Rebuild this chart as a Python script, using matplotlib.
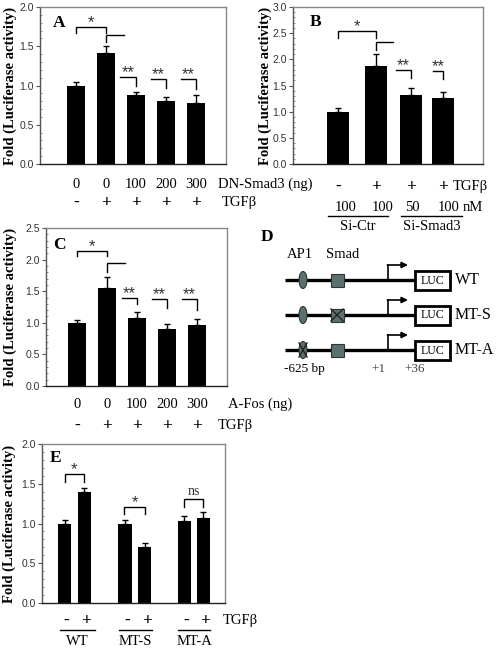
import numpy as np
import matplotlib
matplotlib.use('Agg')
import matplotlib.pyplot as plt
from matplotlib.patches import Ellipse, Rectangle

SERIF = 'Liberation Serif'
SANS = 'Liberation Sans'

# panel A: DN-Smad3
a_dose = ['0', '0', '100', '200', '300']
a_tgf = ['-', '+', '+', '+', '+']
a_vals = [1.0, 1.42, 0.88, 0.80, 0.78]
a_err = [0.04, 0.08, 0.04, 0.05, 0.10]

# panel B: siRNA
b_tgf = ['-', '+', '+', '+']
b_dose = ['100', '100', '50', '100']
b_groups = ['Si-Ctr', 'Si-Smad3']
b_vals = [1.0, 1.87, 1.32, 1.27]
b_err = [0.07, 0.23, 0.13, 0.11]

# panel C: A-Fos
c_dose = ['0', '0', '100', '200', '300']
c_tgf = ['-', '+', '+', '+', '+']
c_vals = [1.0, 1.55, 1.08, 0.90, 0.96]
c_err = [0.05, 0.18, 0.09, 0.08, 0.10]

# panel E: promoter mutants
e_groups = ['WT', 'MT-S', 'MT-A']
e_tgf = ['-', '+', '-', '+', '-', '+']
e_vals = [1.0, 1.40, 1.0, 0.70, 1.03, 1.07]
e_err = [0.04, 0.05, 0.04, 0.06, 0.06, 0.07]

# panel D constructs
d_names = ['WT', 'MT-S', 'MT-A']
d_ap1_mut = [False, False, True]
d_smad_mut = [False, True, False]

W, H = 501, 652
fig = plt.figure(figsize=(W / 100, H / 100), dpi=100)


def px_box(x0, y0, x1, y1):
    return [x0 / W, 1 - y1 / H, (x1 - x0) / W, (y1 - y0) / H]


def bar_panel(box, xs, vals, errs, ymax, xlim, width, letter, letter_px, ylab_px):
    ax = fig.add_axes(px_box(*box))
    ax.bar(xs, vals, width=width, color='black', zorder=2)
    ax.errorbar(xs, vals, yerr=[np.zeros(len(vals)), errs], fmt='none',
                ecolor='black', elinewidth=1, capsize=2.5, capthick=1, zorder=1)
    ax.set_xlim(*xlim)
    ax.set_ylim(0, ymax)
    ax.set_yticks(np.arange(0, ymax + 0.01, 0.5))
    ax.set_yticks(np.arange(0, ymax + 0.01, 0.1), minor=True)
    ax.yaxis.set_major_formatter('{x:.1f}')
    ax.tick_params(axis='y', which='major', direction='out', length=3, width=0.8,
                   labelsize=7.5, labelcolor='#333333', color='#555555', pad=1.5)
    ax.tick_params(axis='y', which='minor', direction='in', length=1.5, width=0.6, color='#777777')
    for lab in ax.get_yticklabels():
        lab.set_fontfamily(SANS)
    ax.set_xticks([])
    ax.spines['top'].set_color('#888888')
    ax.spines['right'].set_color('#888888')
    ax.spines['left'].set_color('#555555')
    ax.spines['bottom'].set_color('#222222')
    for s in ax.spines.values():
        s.set_linewidth(1)
    ax.set_ylabel('Fold (Luciferase activity)', fontfamily=SERIF, fontweight='bold', fontsize=10.5)
    ax.yaxis.set_label_coords((ylab_px - box[0]) / (box[2] - box[0]), 0.5)
    ax.text((letter_px[0] - box[0]) / (box[2] - box[0]), 1 - (letter_px[1] - box[1]) / (box[3] - box[1]),
            letter, transform=ax.transAxes, fontfamily=SERIF, fontweight='bold',
            fontsize=12.5, ha='left', va='top')
    return ax


def row(ax, box, xs, labels, y_px, bold=False, size=10.5, ha='center', color='black'):
    yax = -(y_px - box[3]) / (box[3] - box[1])
    for x, l in zip(xs, labels):
        ax.text(x, yax, l, transform=ax.get_xaxis_transform(), ha=ha, va='baseline',
                fontfamily=SERIF, fontweight='bold' if bold else 'normal',
                fontsize=size, color=color, clip_on=False)


def hline(ax, box, x0, x1, y_px):
    yax = -(y_px - box[3]) / (box[3] - box[1])
    ax.plot([x0, x1], [yax, yax], transform=ax.get_xaxis_transform(), color='black',
            lw=1, clip_on=False)


def bracket(ax, x0, x1, y, dl, dr, label='', fam=SANS, size=12, off=0.0):
    ax.plot([x0, x0, x1, x1], [y - dl, y, y, y - dr], color='black', lw=1,
            solid_joinstyle='miter', clip_on=False, zorder=3)
    if label:
        ax.text((x0 + x1) / 2, y + off, label, ha='center', va='baseline',
                fontfamily=fam, fontsize=size, color='#333333')


PM = 12.5  # size of the +/- row

# ---- A ----
boxA = (40, 7, 226, 164)
xa = np.arange(len(a_vals))
axA = bar_panel(boxA, xa, a_vals, a_err, 2.0, (-1.2, 5.0), 0.6, 'A', (53, 15), 17)
bracket(axA, 0, 1, 1.745, 0.08, 0.08, '*')
bracket(axA, 1, 1.6, 1.64, 0.09, 0)
bracket(axA, 1.47, 2.0, 1.11, 0, 0.11, '**')
bracket(axA, 2.5, 3.0, 1.08, 0, 0.11, '**')
bracket(axA, 3.5, 4.0, 1.08, 0, 0.13, '**')
row(axA, boxA, xa, a_dose, 188)
row(axA, boxA, [4.73], ['DN-Smad3 (ng)'], 188, ha='left')
row(axA, boxA, xa, a_tgf, 207, bold=True, size=PM)
row(axA, boxA, [4.87], ['TGF\u03b2'], 206, ha='left')

# ---- B ----
boxB = (293, 7, 483, 164)
xb = np.array([0, 1.05, 2.03, 2.92])
axB = bar_panel(boxB, xb, b_vals, b_err, 3.0, (-1.25, 4.03), 0.6, 'B', (310, 14), 272)
bracket(axB, 0, 1.05, 2.54, 0.13, 0.13, '*')
bracket(axB, 1.05, 1.53, 2.33, 0.15, 0)
bracket(axB, 1.61, 2.03, 1.80, 0, 0.16, '**')
bracket(axB, 2.64, 2.92, 1.78, 0, 0.16, '**')
row(axB, boxB, xb, b_tgf, 191, bold=True, size=PM)
row(axB, boxB, [3.19], ['TGF\u03b2'], 190, ha='left')
row(axB, boxB, xb + np.array([0.2, 0.2, 0.05, 0.15]), b_dose, 211)
row(axB, boxB, [3.47], ['nM'], 211, ha='left')
hline(axB, boxB, -0.28, 1.39, 216)
hline(axB, boxB, 1.75, 3.44, 216)
row(axB, boxB, [0.55, 2.6], b_groups, 230)

# ---- C ----
boxC = (46, 228, 227, 386)
xc = np.arange(len(c_vals))
axC = bar_panel(boxC, xc, c_vals, c_err, 2.5, (-1.03, 5.0), 0.6, 'C', (53, 237), 17)
bracket(axC, 0, 1, 2.14, 0.09, 0.09, '*')
bracket(axC, 1, 1.6, 1.94, 0.13, 0)
bracket(axC, 1.5, 2.0, 1.39, 0, 0.09, '**')
bracket(axC, 2.5, 3.0, 1.38, 0, 0.15, '**')
bracket(axC, 3.5, 4.0, 1.38, 0, 0.18, '**')
row(axC, boxC, xc, c_dose, 408)
row(axC, boxC, [5.03], ['A-Fos (ng)'], 408, ha='left')
row(axC, boxC, xc, c_tgf, 430, bold=True, size=PM)
row(axC, boxC, [4.7], ['TGF\u03b2'], 429, ha='left')

# ---- E ----
boxE = (42, 444, 225, 603)
xe = np.array([0, 1, 3.05, 4.05, 6.05, 7.0])
axE = bar_panel(boxE, xe, e_vals, e_err, 2.0, (-1.14, 8.1), 0.66, 'E', (50, 450), 16)
bracket(axE, 0, 1, 1.62, 0.10, 0.10, '*')
bracket(axE, 3.0, 4.07, 1.21, 0.09, 0.09, '*')
bracket(axE, 6.05, 7.0, 1.31, 0.10, 0.10, 'ns', fam=SERIF, size=10, off=0.05)
row(axE, boxE, xe + 0.1, e_tgf, 625, bold=True, size=PM)
row(axE, boxE, [8.0], ['TGF\u03b2'], 624, ha='left')
for x0, x1 in [(-0.23, 1.54), (2.75, 4.42), (5.73, 7.35)]:
    hline(axE, boxE, x0, x1, 630)
row(axE, boxE, [0.63, 3.56, 6.54], e_groups, 645)

# ---- D: promoter constructs (drawn in pixel units) ----
axD = fig.add_axes(px_box(250, 228, 501, 380))
axD.set_xlim(250, 501)
axD.set_ylim(380, 228)
axD.axis('off')
axD.patch.set_visible(False)
axD.text(267, 237, 'D', fontfamily=SERIF, fontweight='bold', fontsize=12.5, ha='center', va='center')
axD.text(300, 255, 'AP1', fontfamily=SERIF, fontsize=10.5, ha='center', va='center')
axD.text(343, 255, 'Smad', fontfamily=SERIF, fontsize=10.5, ha='center', va='center')
box_fill = '#5d7070'
for i, (name, am, sm) in enumerate(zip(d_names, d_ap1_mut, d_smad_mut)):
    y = 280 + 35 * i
    axD.plot([285, 415], [y, y], color='black', lw=2.4, solid_capstyle='butt', zorder=1)
    axD.add_patch(Ellipse((303, y), 8, 17, facecolor=box_fill, edgecolor='#2a3535', lw=0.8, zorder=2))
    if am:
        axD.plot([299, 307], [y - 7, y + 7], color='#222222', lw=1, zorder=3)
        axD.plot([299, 307], [y + 7, y - 7], color='#222222', lw=1, zorder=3)
    axD.add_patch(Rectangle((330.5, y - 6.5), 13, 13, facecolor=box_fill, edgecolor='#2a3535', lw=0.8, zorder=2))
    if sm:
        axD.plot([331, 343], [y - 6, y + 6], color='#222222', lw=1, zorder=3)
        axD.plot([331, 343], [y + 6, y - 6], color='#222222', lw=1, zorder=3)
    axD.plot([388, 388], [y, y - 15], color='black', lw=1.2, zorder=2)
    axD.annotate('', xy=(408, y - 15), xytext=(387.4, y - 15),
                 arrowprops=dict(arrowstyle='-|>', lw=1.2, color='black', mutation_scale=9,
                                 shrinkA=0, shrinkB=0))
    axD.add_patch(Rectangle((415, y - 9.5), 35, 19, facecolor='white', edgecolor='black', lw=2, zorder=2))
    axD.text(432.5, y + 0.5, 'LUC', fontfamily=SERIF, fontsize=8.5, ha='center', va='center', zorder=3)
    axD.text(455, y, name, fontfamily=SERIF, fontsize=11.5, ha='left', va='center')
axD.text(304, 372, '-625 bp', fontfamily=SERIF, fontsize=9.5, ha='center', va='baseline')
axD.text(378, 372, '+1', fontfamily=SERIF, fontsize=9.5, ha='center', va='baseline', color='#444444')
axD.text(415, 372, '+36', fontfamily=SERIF, fontsize=9.5, ha='center', va='baseline', color='#444444')

fig.savefig('out.png', dpi=100)
